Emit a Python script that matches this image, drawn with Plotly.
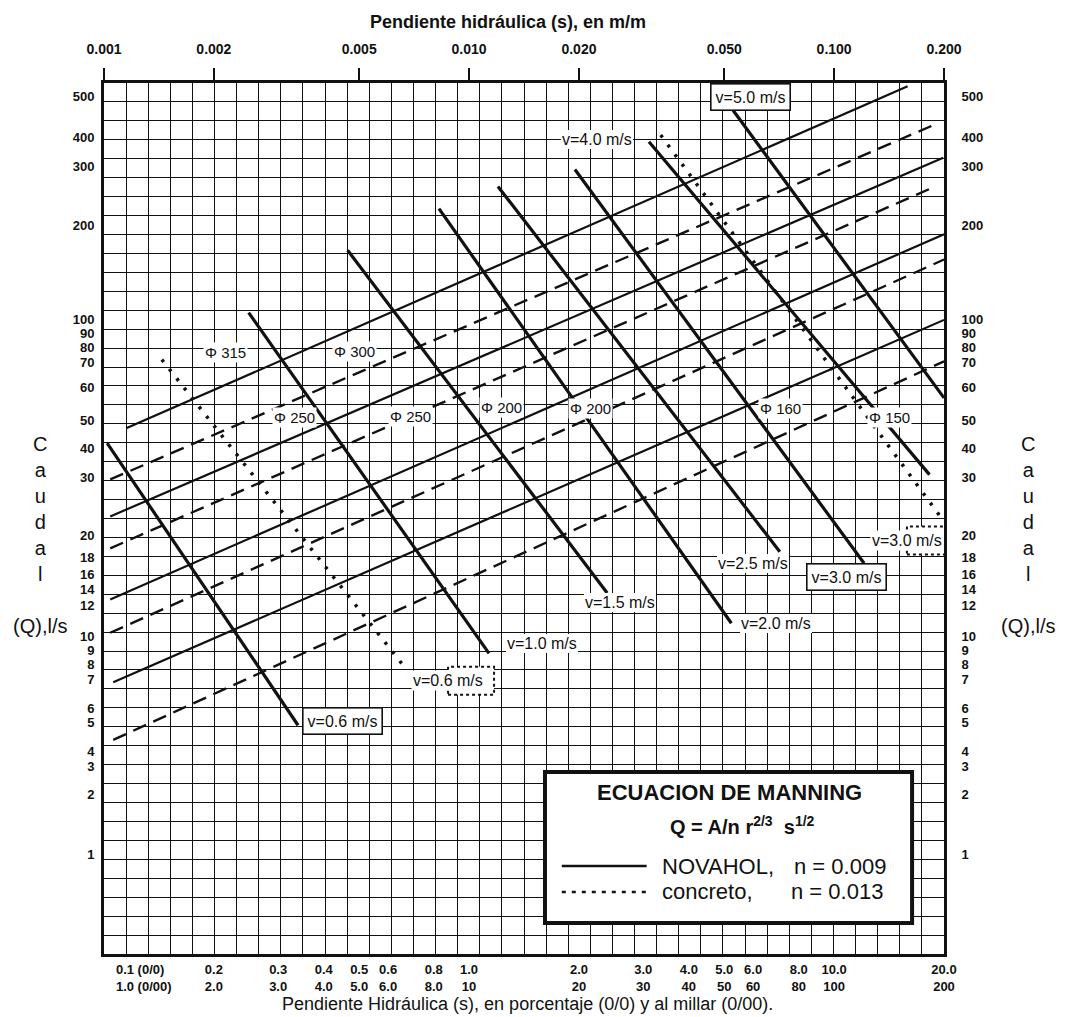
import numpy as np
import plotly.graph_objects as go

# ---------------- axis definitions ----------------
TOP_S = [0.001, 0.002, 0.005, 0.010, 0.020, 0.050, 0.100, 0.200]
TOP_LABELS = ["0.001", "0.002", "0.005", "0.010", "0.020", "0.050", "0.100", "0.200"]

BOTTOM_PCT = [0.1, 0.2, 0.3, 0.4, 0.5, 0.6, 0.8, 1.0, 2.0, 3.0, 4.0, 5.0, 6.0, 8.0, 10.0, 20.0]
BOTTOM_PCT_LABELS = ["0.1 (0/0)", "0.2", "0.3", "0.4", "0.5", "0.6", "0.8", "1.0",
                     "2.0", "3.0", "4.0", "5.0", "6.0", "8.0", "10.0", "20.0"]
BOTTOM_MIL_LABELS = ["1.0 (0/00)", "2.0", "3.0", "4.0", "5.0", "6.0", "8.0", "10",
                     "20", "30", "40", "50", "60", "80", "100", "200"]

# Caudal scale of the nomograph (non-uniform, as printed): label value and its
# relative position on the chart height (0 = bottom, 1 = top)
Q_TICKS = [500, 400, 300, 200, 100, 90, 80, 70, 60, 50, 40, 30, 20, 18, 16, 14, 12,
           10, 9, 8, 7, 6, 5, 4, 3, 2, 1]
Q_TICK_POS = [0.985, 0.937, 0.904, 0.836, 0.728, 0.712, 0.696, 0.679, 0.651, 0.613,
              0.580, 0.547, 0.481, 0.455, 0.436, 0.419, 0.400, 0.365, 0.349, 0.333,
              0.315, 0.282, 0.266, 0.232, 0.215, 0.183, 0.114]

# ---------------- data (slope s in m/m, caudal Q in l/s) ----------------
# Diameter lines, NOVAHOL n = 0.009 (solid)
NOV_DIAM = [315, 250, 200, 160]
NOV_S0 = [0.00115, 0.00104, 0.00104, 0.00106]
NOV_Q0 = [46.9, 22.8, 12.7, 6.9]
NOV_S1 = [0.159, 0.199, 0.200, 0.200]
NOV_Q1 = [527, 328, 188, 100]

# Diameter lines, concreto n = 0.013 (dashed)
CON_DIAM = [300, 250, 200, 150]
CON_S0 = [0.00104, 0.00104, 0.00104, 0.00106]
CON_Q0 = [29.6, 18.8, 10.2, 4.38]
CON_S1 = [0.193, 0.188, 0.200, 0.200]
CON_Q1 = [433, 261, 156, 70.8]

# Velocity lines, NOVAHOL (solid)
NOV_V = [0.6, 1.0, 1.5, 2.0, 2.5, 3.0, 4.0, 5.0]
NOV_V_S0 = [0.00102, 0.00249, 0.00465, 0.00827, 0.0120, 0.0195, 0.0311, 0.0528]
NOV_V_Q0 = [41.8, 105.5, 167, 225, 262, 294, 385, 464]
NOV_V_S1 = [0.0034, 0.01134, 0.0239, 0.0523, 0.0710, 0.1208, 0.1825, 0.200]
NOV_V_Q1 = [4.89, 8.75, 13.5, 10.8, 18.5, 17.3, 30.9, 56.5]

# Velocity lines, concreto (dotted)
CON_V = [0.6, 3.0]
CON_V_S0 = [0.00144, 0.0335]
CON_V_Q0 = [71.9, 406]
CON_V_S1 = [0.00659, 0.200]
CON_V_Q1 = [7.93, 22.0]

# Label anchors (s, Q)
NOV_V_LABEL_S = [0.00449, 0.01584, 0.0259, 0.0693, 0.0600, 0.1078, 0.0224, 0.0592]
NOV_V_LABEL_Q = [5.07, 9.49, 12.4, 10.8, 17.3, 15.6, 392, 497]
NOV_V_BOXED = [True, False, False, False, False, True, False, True]
CON_V_LABEL_S = [0.00876, 0.1583]
CON_V_LABEL_Q = [6.96, 19.5]

DIAM_LABELS = [315, 300, 250, 250, 200, 200, 160, 150]
DIAM_LABEL_S = [0.002146, 0.00487, 0.003316, 0.00693, 0.01224, 0.02145, 0.0711, 0.1422]
DIAM_LABEL_Q = [76.5, 77.2, 50.8, 51.1, 53.7, 53.4, 53.4, 50.8]

# ---------------- helpers ----------------
_lq = np.log10(np.array(Q_TICKS[::-1], dtype=float))
_pq = np.array(Q_TICK_POS[::-1], dtype=float)


def q_scale(q):
    """Position of a caudal value on the printed (non-uniform) Q scale."""
    l = np.log10(q)
    if l > _lq[-1]:
        return float(_pq[-1] + (l - _lq[-1]) * (_pq[-1] - _pq[-2]) / (_lq[-1] - _lq[-2]))
    if l < _lq[0]:
        return float(_pq[0] + (l - _lq[0]) * (_pq[1] - _pq[0]) / (_lq[1] - _lq[0]))
    return float(np.interp(l, _lq, _pq))


def segments(s0, q0, s1, q1):
    xs, ys = [], []
    for a, b, c, d in zip(s0, q0, s1, q1):
        xs += [a, c, None]
        ys += [q_scale(b), q_scale(d), None]
    return xs, ys


FONT = "Liberation Sans, Arial, Helvetica, sans-serif"
INK = "#111111"
X_RANGE = [np.log10(0.001), np.log10(0.2)]

fig = go.Figure()

x, y = segments(NOV_S0, NOV_Q0, NOV_S1, NOV_Q1)
fig.add_trace(go.Scatter(x=x, y=y, mode="lines", name="NOVAHOL, n = 0.009",
                         line=dict(color=INK, width=2.2), hoverinfo="skip"))
x, y = segments(CON_S0, CON_Q0, CON_S1, CON_Q1)
fig.add_trace(go.Scatter(x=x, y=y, mode="lines", name="concreto, n = 0.013",
                         line=dict(color=INK, width=2.4, dash="14px,8px"), hoverinfo="skip"))
x, y = segments(NOV_V_S0, NOV_V_Q0, NOV_V_S1, NOV_V_Q1)
fig.add_trace(go.Scatter(x=x, y=y, mode="lines", name="v NOVAHOL",
                         line=dict(color=INK, width=3.2), hoverinfo="skip"))
x, y = segments(CON_V_S0, CON_V_Q0, CON_V_S1, CON_V_Q1)
fig.add_trace(go.Scatter(x=x, y=y, mode="lines", name="v concreto",
                         line=dict(color=INK, width=3.5, dash="3px,9px"), hoverinfo="skip"))

# helper traces so that the overlay axes (top/right labels, grid) are drawn
fig.add_trace(go.Scatter(x=[None], y=[None], xaxis="x2", yaxis="y2",
                         showlegend=False, hoverinfo="skip"))
fig.add_trace(go.Scatter(x=[None], y=[None], xaxis="x3", yaxis="y3",
                         showlegend=False, hoverinfo="skip"))

annotations = []
shapes = []

# velocity labels
for v, s, q, boxed in zip(NOV_V, NOV_V_LABEL_S, NOV_V_LABEL_Q, NOV_V_BOXED):
    annotations.append(dict(
        x=np.log10(s), y=q_scale(q), xref="x", yref="y", showarrow=False,
        xanchor="center", yanchor="middle",
        text=f"v={v:.1f} m/s", font=dict(family=FONT, size=16, color=INK),
        bgcolor="white", bordercolor=INK if boxed else "rgba(0,0,0,0)",
        borderwidth=1.6 if boxed else 0, borderpad=4 if boxed else 1))
for v, s, q in zip(CON_V, CON_V_LABEL_S, CON_V_LABEL_Q):
    shapes.append(dict(type="rect", xref="x", yref="y", xsizemode="pixel", ysizemode="pixel",
                       xanchor=s, yanchor=q_scale(q), x0=-46, x1=46, y0=-14, y1=14,
                       line=dict(color=INK, width=2, dash="dot"), fillcolor="white",
                       layer="above"))
    annotations.append(dict(
        x=np.log10(s), y=q_scale(q), xref="x", yref="y", showarrow=False,
        xanchor="center", yanchor="middle",
        text=f"v={v:.1f} m/s", font=dict(family=FONT, size=16, color=INK),
        bgcolor="white", borderpad=1))

# diameter labels
for d, s, q in zip(DIAM_LABELS, DIAM_LABEL_S, DIAM_LABEL_Q):
    annotations.append(dict(
        x=np.log10(s), y=q_scale(q), xref="x", yref="y", showarrow=False,
        xanchor="center", yanchor="middle",
        text=f"Φ {d}", font=dict(family=FONT, size=15, color=INK),
        bgcolor="white", borderpad=1))

# axis titles
annotations.append(dict(x=0.481, y=1.070, xref="paper", yref="paper", showarrow=False,
                        xanchor="center", yanchor="middle",
                        text="<b>Pendiente hidráulica (s), en m/m</b>",
                        font=dict(family=FONT, size=18, color=INK)))
annotations.append(dict(x=0.504, y=-0.0574, xref="paper", yref="paper", showarrow=False,
                        xanchor="center", yanchor="middle",
                        text="Pendiente Hidráulica (s), en porcentaje (0/0) y al millar (0/00).",
                        font=dict(family=FONT, size=18, color=INK)))

# side titles
side_text = "C<br>a<br>u<br>d<br>a<br>l<br> <br>(Q),l/s"
annotations.append(dict(x=-0.076, y=0.481, xref="paper", yref="paper", showarrow=False,
                        xanchor="center", yanchor="middle",
                        text=side_text, font=dict(family=FONT, size=20, color=INK),
                        align="center"))
annotations.append(dict(x=1.1, y=0.481, xref="paper", yref="paper", showarrow=False,
                        xanchor="center", yanchor="middle",
                        text=side_text, font=dict(family=FONT, size=20, color=INK),
                        align="center"))

# Manning box (legend)
shapes.append(dict(type="rect", xref="paper", yref="paper", x0=0.525, x1=0.962,
                   y0=0.0356, y1=0.209, line=dict(color=INK, width=4),
                   fillcolor="white", layer="above"))
annotations.append(dict(x=0.745, y=0.185, xref="paper", yref="paper", showarrow=False,
                        xanchor="center", yanchor="middle",
                        text="<b>ECUACION DE MANNING</b>",
                        font=dict(family=FONT, size=22, color=INK)))
annotations.append(dict(x=0.76, y=0.148, xref="paper", yref="paper", showarrow=False,
                        xanchor="center", yanchor="middle",
                        text="<b>Q = A/n r<sup>2/3</sup>  s<sup>1/2</sup></b>",
                        font=dict(family=FONT, size=20, color=INK)))
shapes.append(dict(type="line", xref="paper", yref="paper", x0=0.545, x1=0.646,
                   y0=0.101, y1=0.101, line=dict(color=INK, width=2.5), layer="above"))
shapes.append(dict(type="line", xref="paper", yref="paper", x0=0.545, x1=0.646,
                   y0=0.0712, y1=0.0712, line=dict(color=INK, width=2.5, dash="4px,6px"),
                   layer="above"))
for txt, xx, yy in [("NOVAHOL,", 0.662, 0.101), ("n = 0.009", 0.819, 0.101),
                    ("concreto,", 0.662, 0.0712), ("n = 0.013", 0.816, 0.0712)]:
    annotations.append(dict(x=xx, y=yy, xref="paper", yref="paper", showarrow=False,
                            xanchor="left", yanchor="middle", text=txt,
                            font=dict(family=FONT, size=22, color=INK)))

# bottom tick text (two lines: percent / per mil)
NB = "\u00a0"
bottom_text = []
for i, (a, b) in enumerate(zip(BOTTOM_PCT_LABELS, BOTTOM_MIL_LABELS)):
    if i == 0:
        a = NB * 20 + a
        b = NB * 22 + b
    bottom_text.append(f"{a}<br>{b}")

tick_font = dict(family=FONT, size=13, color=INK, weight="bold")

fig.update_layout(
    template="none",
    width=1069, height=1017, autosize=False,
    margin=dict(l=104, r=125, t=83, b=63, pad=0),
    paper_bgcolor="white", plot_bgcolor="white",
    showlegend=False,
    annotations=annotations, shapes=shapes,
    xaxis=dict(type="log", range=X_RANGE, tickmode="array", automargin=False,
               tickvals=[p / 100 for p in BOTTOM_PCT], ticktext=bottom_text,
               tickfont=tick_font, ticks="", showgrid=False, zeroline=False,
               ticklabelstandoff=1,
               showline=True, linecolor=INK, linewidth=3),
    xaxis2=dict(type="log", range=X_RANGE, overlaying="x", side="top", tickmode="array",
                automargin=False, tickvals=TOP_S, ticktext=TOP_LABELS,
                tickfont=dict(family=FONT, size=14, color=INK, weight="bold"),
                ticks="outside", ticklen=12, tickwidth=2, tickcolor=INK,
                ticklabelstandoff=8,
                showgrid=False, zeroline=False, showline=True, linecolor=INK, linewidth=3),
    xaxis3=dict(range=[0, 38], overlaying="x", side="bottom", tickmode="linear", tick0=0,
                automargin=False,
                dtick=1, showgrid=True, gridcolor=INK, gridwidth=1.3, showticklabels=False,
                ticks="", zeroline=False, showline=False),
    yaxis=dict(range=[0, 1], tickmode="array", tickvals=Q_TICK_POS, automargin=False,
               ticktext=[str(q) for q in Q_TICKS], tickfont=tick_font, ticks="",
               ticklabelstandoff=4, showgrid=False, zeroline=False,
               showline=True, linecolor=INK, linewidth=3),
    yaxis2=dict(range=[0, 1], overlaying="y", side="right", tickmode="array",
                automargin=False,
                tickvals=Q_TICK_POS, ticktext=[str(q) for q in Q_TICKS], tickfont=tick_font,
                ticks="", ticklabelstandoff=12, showgrid=False, zeroline=False,
                showline=True, linecolor=INK, linewidth=3),
    yaxis3=dict(range=[0, 46], overlaying="y", side="left", tickmode="linear", tick0=0,
                automargin=False,
                dtick=1, showgrid=True, gridcolor=INK, gridwidth=1.3, showticklabels=False,
                ticks="", zeroline=False, showline=False),
)

# remove the browser's default page margin so the figure sits at the window origin
fig.write_html("out.html",
               config={"displayModeBar": False},
               post_script="document.body.style.margin='0';document.body.style.padding='0';")
